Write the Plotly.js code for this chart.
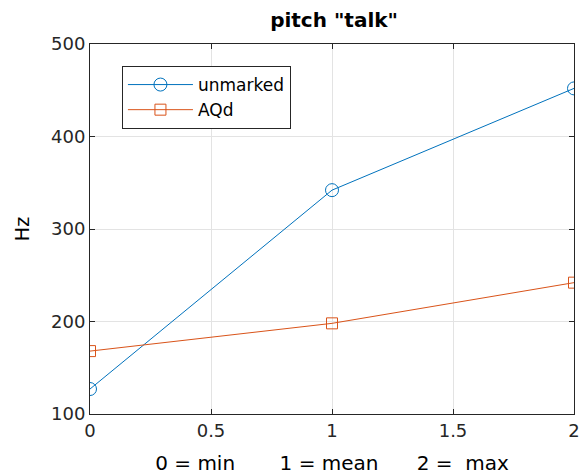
<!DOCTYPE html>
<html><head><meta charset="utf-8">
<script src="https://cdn.plot.ly/plotly-3.0.1.min.js"></script>
<style>html,body{margin:0;padding:0;background:#fff}#chart{width:581px;height:475px}</style>
</head><body><div id="chart"></div>
<script>
const xValues = [0, 1, 2];
const unmarked = [127, 342, 452];
const aqd = [168, 198, 242];
const seriesNames = ["unmarked", "AQd"];
const xTicks = [0, 0.5, 1, 1.5, 2];
const yTicks = [100, 200, 300, 400, 500];

const font = "DejaVu Sans, Arial, Helvetica, sans-serif";
const traces = [
  {x: xValues, y: unmarked, name: seriesNames[0], mode: "lines+markers",
   line: {color: "#0072BD", width: 1},
   marker: {symbol: "circle-open", size: 13, color: "#0072BD", line: {width: 1}}},
  {x: xValues, y: aqd, name: seriesNames[1], mode: "lines+markers",
   line: {color: "#D95319", width: 1},
   marker: {symbol: "square-open", size: 11, color: "#D95319", line: {width: 1}}}
];
const axisCommon = {
  showline: true, mirror: "ticks", linecolor: "#262626", linewidth: 1,
  ticks: "inside", ticklen: 5, tickcolor: "#262626",
  showgrid: true, gridcolor: "#e3e3e3", gridwidth: 1, zeroline: false,
  tickfont: {family: font, size: 18, color: "#262626"}
};
const layout = {
  width: 581, height: 475,
  margin: {l: 90, r: 7, t: 44, b: 61},
  paper_bgcolor: "#fff", plot_bgcolor: "#fff",
  title: {text: '<b>pitch "talk"</b>', x: 0.575, xanchor: "center", y: 0.958, yanchor: "middle",
          font: {family: font, size: 20, color: "#000"}},
  xaxis: Object.assign({}, axisCommon, {range: [0, 2], tickvals: xTicks, ticktext: xTicks.map(String),
    title: {text: "0 = min       1 = mean      2 =  max", font: {family: font, size: 20, color: "#000"}, standoff: 18}}),
  yaxis: Object.assign({}, axisCommon, {range: [100, 500], tickvals: yTicks,
    title: {text: "Hz", font: {family: font, size: 19, color: "#000"}, standoff: 16}}),
  showlegend: true,
  legend: {x: 0.066, y: 0.9405, xanchor: "left", yanchor: "top", bgcolor: "#fff",
           bordercolor: "#262626", borderwidth: 1,
           font: {family: font, size: 17, color: "#000"}, tracegroupgap: 0, itemwidth: 65}
};
Plotly.newPlot("chart", traces, layout, {displayModeBar: false, staticPlot: true});
</script></body></html>
